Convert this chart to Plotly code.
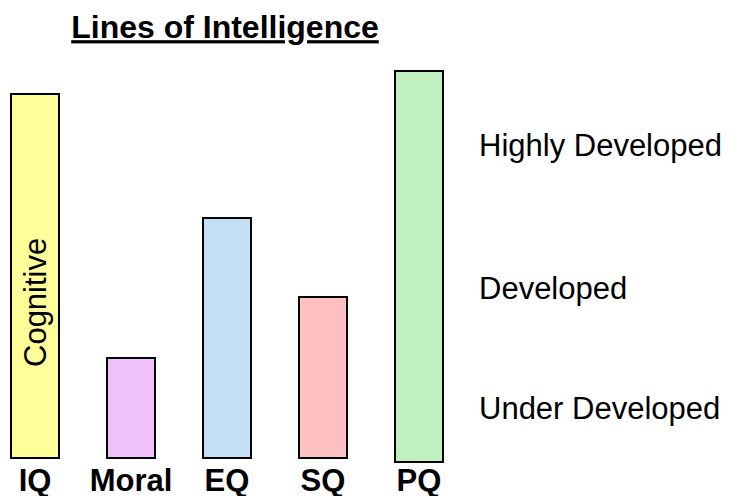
import plotly.graph_objects as go

categories = ["IQ", "Moral", "EQ", "SQ", "PQ"]
values = [91, 25, 60, 40.25, 97.75]
bases = [0, 0, 0, 0, -1]
colors = ["#FFFF99", "#F0C2FD", "#C2DFF6", "#FFC0C0", "#C0EFC0"]
level_labels = ["Under Developed", "Developed", "Highly Developed"]
level_values = [12.5, 42.5, 78.25]
inner_label = "Cognitive"
inner_label_value = 38.75
title_text = "Lines of Intelligence"

FONT = "Arial, Liberation Sans, sans-serif"

xs = list(range(len(categories)))
fig = go.Figure()
fig.add_trace(go.Bar(
    x=xs, y=values, base=bases, width=0.5,
    marker=dict(color=colors, line=dict(color="#000000", width=2)),
    hoverinfo="skip",
))

fig.add_annotation(
    x=0, y=inner_label_value, xref="x", yref="y",
    text=inner_label, textangle=-90, showarrow=False,
    font=dict(family=FONT, size=31, color="#000000"),
)

fig.update_layout(
    width=730, height=496,
    margin=dict(l=0, r=258, t=50, b=38, autoexpand=False),
    paper_bgcolor="white", plot_bgcolor="white",
    showlegend=False,
    title=dict(
        text="<b><u>" + title_text + "</u></b>",
        x=217 / 472, xref="paper", xanchor="center",
        y=1 - 19 / 496, yref="container", yanchor="middle",
        font=dict(family=FONT, size=32, color="#000000"),
        automargin=False,
    ),
    xaxis=dict(
        range=[-27 / 96, (472 - 27) / 96],
        tickvals=xs,
        ticktext=["<b>" + c + "</b>" for c in categories],
        tickfont=dict(family=FONT, size=31, color="#000000"),
        showgrid=False, zeroline=False, showline=False, ticks="",
        automargin=False, ticklabelstandoff=-7,
    ),
    yaxis=dict(
        range=[-2, 100],
        side="right",
        tickvals=level_values,
        ticktext=level_labels,
        tickfont=dict(family=FONT, size=31, color="#000000"),
        showgrid=False, zeroline=False, showline=False, ticks="",
        automargin=False, ticklabelstandoff=-2,
    ),
)

fig.write_html("out.html")
